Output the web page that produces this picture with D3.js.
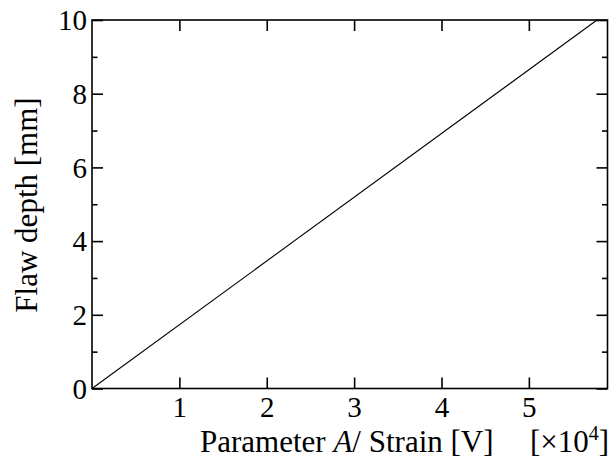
<!DOCTYPE html>
<html>
<head>
<meta charset="utf-8">
<script src="https://cdn.jsdelivr.net/npm/d3@7"></script>
<style>
  html, body { margin: 0; padding: 0; background: #fff; }
  svg { display: block; }
  text { font-family: "Liberation Serif", "Times New Roman", serif; fill: #000; }
</style>
</head>
<body>
<svg id="chart" width="609" height="472"></svg>
<script>
// Calibration line: flaw depth versus parameter A / strain (×10^4 V)
const lineX = [0, 5.78];
const lineY = [0, 10];

const xMajorTicks = [1, 2, 3, 4, 5];
const yMajorTicks = [0, 2, 4, 6, 8, 10];
const yMinorTicks = [1, 3, 5, 7, 9];

const xDomain = [0, 5.9];
const yDomain = [0, 10];

const plot = { left: 92, right: 607.5, top: 20, bottom: 388.5 };

const svg = d3.select("#chart");

const x = d3.scaleLinear().domain(xDomain).range([plot.left, plot.right]);
const y = d3.scaleLinear().domain(yDomain).range([plot.bottom, plot.top]);

const tickFont = 29;
const labelFont = 31;
const serif = "Liberation Serif, Times New Roman, serif";

function styleAxis(g) {
  g.select(".domain").remove();
  g.selectAll(".tick line").attr("stroke", "#000").attr("stroke-width", 1.6);
}

// Bottom axis: inward ticks with numeric labels
svg.append("g")
  .attr("transform", `translate(0,${plot.bottom})`)
  .call(d3.axisBottom(x).tickValues(xMajorTicks).tickSize(-11).tickFormat(d3.format("d")))
  .call(styleAxis)
  .call(g => g.selectAll(".tick text")
    .attr("y", 28.5).attr("dy", 0)
    .attr("fill", "#000")
    .style("font-size", tickFont + "px")
    .style("font-family", serif));

// Top axis: inward ticks only
svg.append("g")
  .attr("transform", `translate(0,${plot.top})`)
  .call(d3.axisTop(x).tickValues(xMajorTicks).tickSize(-11).tickFormat(""))
  .call(styleAxis);

// Left axis: major ticks with labels
svg.append("g")
  .attr("transform", `translate(${plot.left},0)`)
  .call(d3.axisLeft(y).tickValues(yMajorTicks).tickSize(-11).tickFormat(d3.format("d")))
  .call(styleAxis)
  .call(g => g.selectAll(".tick text")
    .attr("x", -5).attr("dy", "0.34em")
    .attr("fill", "#000")
    .style("font-size", tickFont + "px")
    .style("font-family", serif));

// Left axis: minor ticks
svg.append("g")
  .attr("transform", `translate(${plot.left},0)`)
  .call(d3.axisLeft(y).tickValues(yMinorTicks).tickSize(-5.5).tickFormat(""))
  .call(styleAxis);

// Right axis: major and minor inward ticks
svg.append("g")
  .attr("transform", `translate(${plot.right},0)`)
  .call(d3.axisRight(y).tickValues(yMajorTicks).tickSize(-11).tickFormat(""))
  .call(styleAxis);
svg.append("g")
  .attr("transform", `translate(${plot.right},0)`)
  .call(d3.axisRight(y).tickValues(yMinorTicks).tickSize(-5.5).tickFormat(""))
  .call(styleAxis);

// Plot frame
svg.append("rect")
  .attr("x", plot.left).attr("y", plot.top)
  .attr("width", plot.right - plot.left).attr("height", plot.bottom - plot.top)
  .attr("fill", "none").attr("stroke", "#000").attr("stroke-width", 1.6);

// Data line
const pts = lineX.map((v, i) => [v, lineY[i]]);
svg.append("path")
  .datum(pts)
  .attr("fill", "none")
  .attr("stroke", "#000")
  .attr("stroke-width", 1.1)
  .attr("d", d3.line().x(d => x(d[0])).y(d => y(d[1])));

// X axis title
const xt = svg.append("text")
  .attr("x", 200).attr("y", 452)
  .style("font-size", labelFont + "px");
xt.append("tspan").text("Parameter ");
xt.append("tspan").style("font-style", "italic").text("A");
xt.append("tspan").text("/ Strain [V]");

// Exponent note
const xe = svg.append("text")
  .attr("x", 530).attr("y", 452)
  .style("font-size", labelFont + "px");
xe.append("tspan").text("[×10");
xe.append("tspan").attr("dy", -12).style("font-size", "20px").text("4");
xe.append("tspan").attr("dy", 12).text("]");

// Y axis title
svg.append("text")
  .attr("transform", `translate(37,${(97 + 313) / 2}) rotate(-90)`)
  .attr("text-anchor", "middle")
  .style("font-size", labelFont + "px")
  .text("Flaw depth [mm]");
</script>
</body>
</html>
